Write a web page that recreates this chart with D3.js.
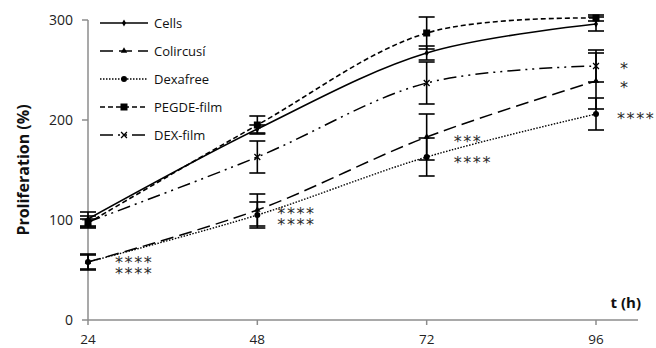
<!DOCTYPE html>
<html><head><meta charset="utf-8">
<script src="https://cdn.jsdelivr.net/npm/d3@7"></script>
<style>body{margin:0;background:#fff}svg{display:block}</style>
</head><body>
<script>
const times = [24, 48, 72, 96];
const seriesNames = ["Cells", "Colircusí", "Dexafree", "PEGDE-film", "DEX-film"];
const cellsVals = [101, 191, 267, 296];
const cellsErr = [7, 4, 7, 7];
const colircusiVals = [58, 110, 183, 239];
const colircusiErr = [8, 16, 23, 28];
const dexafreeVals = [58, 105, 163, 206];
const dexafreeErr = [7, 13, 19, 16];
const pegdeVals = [97, 195, 287, 302];
const pegdeErr = [4, 9, 16, 3];
const dexfilmVals = [98, 163, 237, 254];
const dexfilmErr = [6, 16, 21, 16];
const yTicks = [0, 100, 200, 300];
const xTicks = [24, 48, 72, 96];
// significance labels: time, value at centre of first line, lines of text
const sigTime = [24, 48, 72, 72, 96, 96, 96];
const sigVal = [61, 110, 182, 161, 255, 236, 205];
const sigText = [["****", "****"], ["****", "****"], ["***"], ["****"], ["*"], ["*"], ["****"]];

const W = 656, H = 348;
const svg = d3.select("body").append("svg").attr("width", W).attr("height", H);
const x = d3.scaleLinear().domain([24, 96]).range([88, 596]);
const y = d3.scaleLinear().domain([0, 300]).range([320, 20]);
const font = "'Open Sans', sans-serif";
const axisCol = "#8c8c8c";

// axes
svg.append("line").attr("x1", 88).attr("x2", 638).attr("y1", y(0)).attr("y2", y(0)).attr("stroke", axisCol).attr("stroke-width", 1.5);
svg.append("line").attr("x1", 88).attr("x2", 88).attr("y1", y(0)).attr("y2", y(300)).attr("stroke", axisCol).attr("stroke-width", 1.5);
yTicks.forEach(t => {
  svg.append("line").attr("x1", 82).attr("x2", 88).attr("y1", y(t)).attr("y2", y(t)).attr("stroke", axisCol).attr("stroke-width", 1.5);
  svg.append("text").attr("x", 73).attr("y", y(t)).attr("dy", "0.36em").attr("text-anchor", "end")
    .attr("font-family", font).attr("font-size", 14).attr("fill", "#222").text(t);
});
xTicks.forEach(t => {
  svg.append("line").attr("x1", x(t)).attr("x2", x(t)).attr("y1", y(0)).attr("y2", y(0) + 5).attr("stroke", axisCol).attr("stroke-width", 1.5);
  svg.append("text").attr("x", x(t)).attr("y", 344).attr("text-anchor", "middle")
    .attr("font-family", font).attr("font-size", 13.5).attr("fill", "#222").text(t);
});
svg.append("text").attr("transform", "translate(29,170) rotate(-90)").attr("text-anchor", "middle")
  .attr("font-family", font).attr("font-size", 16).attr("font-weight", "bold").attr("fill", "#111").text("Proliferation (%)");
svg.append("text").attr("x", 641).attr("y", 308).attr("text-anchor", "end")
  .attr("font-family", font).attr("font-size", 15).attr("font-weight", "bold").attr("fill", "#111").text("t (h)");

const series = [
  {name: seriesNames[0], vals: cellsVals, err: cellsErr, dash: null, w: 1.6, marker: "diamond"},
  {name: seriesNames[1], vals: colircusiVals, err: colircusiErr, dash: "13,6", w: 1.5, marker: "triangle"},
  {name: seriesNames[2], vals: dexafreeVals, err: dexafreeErr, dash: "1.5,1.5", w: 1.4, marker: "circle"},
  {name: seriesNames[3], vals: pegdeVals, err: pegdeErr, dash: "5,3", w: 1.6, marker: "square"},
  {name: seriesNames[4], vals: dexfilmVals, err: dexfilmErr, dash: "13,5,2,5,2,5", w: 1.5, marker: "x"}
];

function drawMarker(g, type, cx, cy) {
  if (type === "diamond") g.append("path").attr("d", d3.symbol(d3.symbolDiamond, 14)()).attr("transform", `translate(${cx},${cy})`).attr("fill", "#000");
  else if (type === "triangle") g.append("path").attr("d", d3.symbol(d3.symbolTriangle, 18)()).attr("transform", `translate(${cx},${cy})`).attr("fill", "#000");
  else if (type === "circle") g.append("circle").attr("cx", cx).attr("cy", cy).attr("r", 3).attr("fill", "#000");
  else if (type === "square") g.append("rect").attr("x", cx - 3.5).attr("y", cy - 3.5).attr("width", 7).attr("height", 7).attr("fill", "#000");
  else if (type === "x") g.append("path").attr("d", d3.symbol(d3.symbolTimes, 24)()).attr("transform", `translate(${cx},${cy})`).attr("fill", "none").attr("stroke", "#000").attr("stroke-width", 1.3);
}

const line = d3.line().x((d, i) => x(times[i])).y(d => y(d)).curve(d3.curveCatmullRom.alpha(0.5));

series.forEach(s => {
  const g = svg.append("g");
  s.vals.forEach((v, i) => {
    const cx = x(times[i]);
    g.append("line").attr("x1", cx).attr("x2", cx).attr("y1", y(v + s.err[i])).attr("y2", y(v - s.err[i])).attr("stroke", "#000").attr("stroke-width", 1.6);
    [v + s.err[i], v - s.err[i]].forEach(e => {
      g.append("line").attr("x1", cx - 8).attr("x2", cx + 8).attr("y1", y(e)).attr("y2", y(e)).attr("stroke", "#000").attr("stroke-width", 1.6);
    });
  });
  g.append("path").attr("d", line(s.vals)).attr("fill", "none").attr("stroke", "#000")
    .attr("stroke-width", s.w).attr("stroke-dasharray", s.dash);
  s.vals.forEach((v, i) => drawMarker(g, s.marker, x(times[i]), y(v)));
});

// legend
const legY = [23, 51, 79, 107, 135];
series.forEach((s, i) => {
  const g = svg.append("g");
  g.append("line").attr("x1", 100).attr("x2", 148).attr("y1", legY[i]).attr("y2", legY[i])
    .attr("stroke", "#000").attr("stroke-width", s.w).attr("stroke-dasharray", s.dash);
  drawMarker(g, s.marker, 124, legY[i]);
  g.append("text").attr("x", 154).attr("y", legY[i]).attr("dy", "0.36em")
    .attr("font-family", font).attr("font-size", 13).attr("fill", "#111").text(s.name);
});

// significance
const offs = [27, 20, 27, 27, 24, 24, 21];
const sigG = svg.append("g").attr("transform", "rotate(0.001)");
sigText.forEach((lines, i) => {
  const t = sigG.append("text").attr("font-family", "'DejaVu Sans', sans-serif").attr("font-size", 16)
    .attr("letter-spacing", 1.6).attr("fill", "#2a2a2a");
  lines.forEach((ln, j) => {
    t.append("tspan").attr("x", x(sigTime[i]) + offs[i]).attr("y", y(sigVal[i]) + 9 + j * 11).text(ln);
  });
});
</script>
</body></html>
